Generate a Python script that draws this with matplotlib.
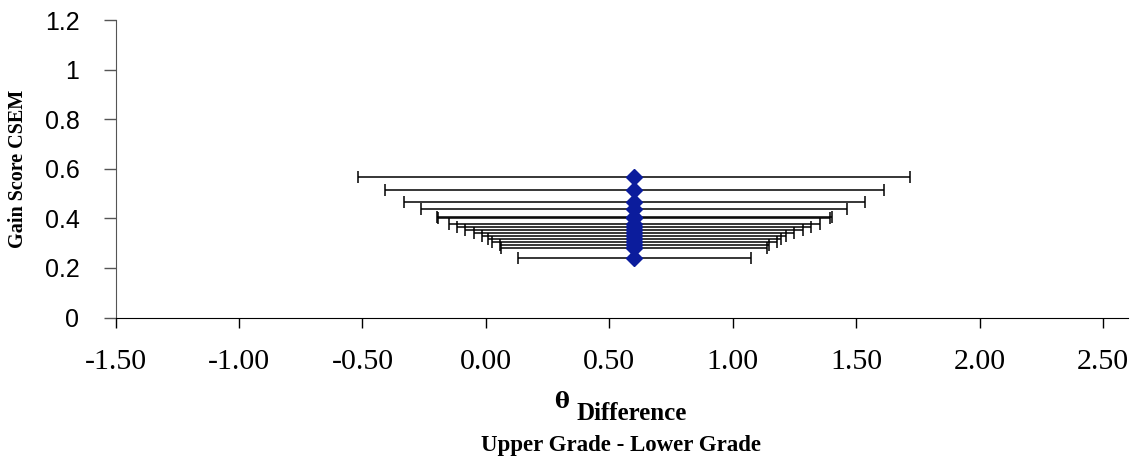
import numpy as np
import matplotlib
matplotlib.use("Agg")
import matplotlib.pyplot as plt

# gain score CSEM (y) and half width of the error bar (x)
theta_diff = [0.60] * 16
csem = [0.565, 0.513, 0.467, 0.439, 0.406, 0.400, 0.377, 0.364,
        0.353, 0.342, 0.330, 0.316, 0.304, 0.292, 0.279, 0.239]
half_width = [1.118, 1.010, 0.933, 0.863, 0.800, 0.794, 0.751, 0.716,
              0.685, 0.649, 0.615, 0.593, 0.577, 0.545, 0.540, 0.472]

x_ticks = [-1.5, -1.0, -0.5, 0.0, 0.5, 1.0, 1.5, 2.0, 2.5]
y_ticks = [0, 0.2, 0.4, 0.6, 0.8, 1.0, 1.2]
y_tick_labels = ["0", "0.2", "0.4", "0.6", "0.8", "1", "1.2"]

W, H = 1142, 459
fig = plt.figure(figsize=(W / 100, H / 100), dpi=100)
ax = fig.add_axes([115.5 / W, 1 - 317.5 / H, (1128 - 115.5) / W, (317.5 - 20) / H])

ax.errorbar(theta_diff, csem, xerr=half_width, fmt="none", ecolor="black",
            elinewidth=1.1, capsize=4, capthick=1.1, zorder=2)
ax.plot(theta_diff, csem, linestyle="none", marker="D", markersize=8,
        color="#0B1C9C", zorder=3)

ax.set_xlim(-1.5, 2.6)
ax.set_ylim(0, 1.2)
ax.set_xticks(x_ticks)
ax.set_xticklabels(["%.2f" % v for v in x_ticks],
                   fontfamily="Liberation Serif", fontsize=21.5)
ax.set_yticks(y_ticks)
ax.set_yticklabels(y_tick_labels, fontfamily="Liberation Sans", fontsize=18)
ax.tick_params(axis="x", direction="out", length=7, width=1, pad=16)
ax.tick_params(axis="y", direction="out", length=9, width=1, pad=17,
               color="#555555")

ax.spines["top"].set_visible(False)
ax.spines["right"].set_visible(False)
ax.spines["left"].set_color("#555555")
ax.spines["bottom"].set_color("black")

ax.set_ylabel("Gain Score CSEM", fontfamily="Liberation Serif",
              fontweight="bold", fontsize=14.5, labelpad=12)

# x axis title in two lines, theta raised a little
fig.text(562 / W, 1 - 402 / H, "\u03b8", ha="center", va="center",
         fontfamily="DejaVu Serif", fontsize=16, fontweight="bold")
fig.text(632 / W, 1 - 413 / H, "Difference", ha="center", va="center",
         fontfamily="Liberation Serif", fontweight="bold", fontsize=18)
fig.text(621 / W, 1 - 445 / H, "Upper Grade - Lower Grade", ha="center",
         va="center", fontfamily="Liberation Serif", fontweight="bold",
         fontsize=16.5)

fig.savefig("out.png", dpi=100)
